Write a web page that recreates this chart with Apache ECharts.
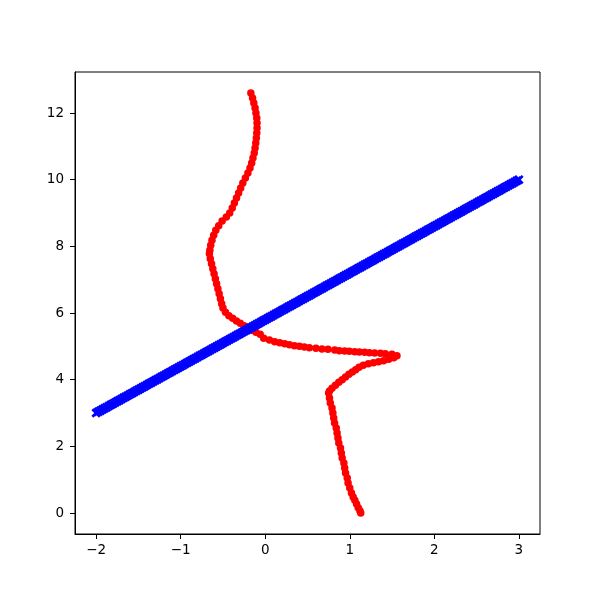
<!DOCTYPE html>
<html>
<head>
<meta charset="utf-8">
<script src="https://cdn.jsdelivr.net/npm/echarts@6/dist/echarts.min.js"></script>
<style>
html, body { margin: 0; padding: 0; background: #fff; }
#chart { width: 600px; height: 600px; }
</style>
</head>
<body>
<div id="chart"></div>
<script>
// red path (top end first)
const redX = [
    -0.17, -0.15, -0.135, -0.12, -0.11, -0.10, -0.097, -0.097, -0.10, -0.105,
    -0.112, -0.12, -0.13, -0.145, -0.16, -0.18, -0.205, -0.235, -0.265, -0.29,
    -0.315, -0.34, -0.365, -0.39, -0.42, -0.46, -0.51, -0.55, -0.585, -0.61,
    -0.63, -0.645, -0.655, -0.66,
    -0.65, -0.635, -0.62, -0.605, -0.59, -0.575, -0.56, -0.545, -0.53, -0.515, -0.50,
    -0.47, -0.43, -0.385, -0.34, -0.295, -0.25, -0.205, -0.16, -0.11, -0.06,
    -0.018, 0.05, 0.112, 0.171, 0.23, 0.286, 0.345, 0.404, 0.463, 0.522,
    0.60, 0.671, 0.742, 0.822, 0.877, 0.94, 0.995, 1.058, 1.113, 1.176,
    1.232, 1.294, 1.362, 1.42, 1.499, 1.558,
    1.52, 1.46, 1.40, 1.34, 1.28, 1.22, 1.16, 1.11, 1.07, 1.03,
    0.99, 0.95, 0.91, 0.87, 0.83, 0.79, 0.76, 0.75,
    0.76, 0.77, 0.79, 0.80, 0.81, 0.82, 0.84, 0.85, 0.86, 0.87,
    0.89, 0.90, 0.91, 0.93, 0.94, 0.95, 0.97, 0.98, 1.00, 1.02,
    1.04, 1.06, 1.08, 1.10, 1.12, 1.13
];
const redY = [
    12.60, 12.45, 12.30, 12.15, 12.00, 11.85, 11.70, 11.55, 11.40, 11.25,
    11.10, 10.95, 10.80, 10.65, 10.50, 10.35, 10.20, 10.05, 9.90, 9.75,
    9.60, 9.45, 9.30, 9.15, 9.00, 8.88, 8.76, 8.62, 8.48, 8.33,
    8.18, 8.03, 7.88, 7.78,
    7.63, 7.48, 7.33, 7.18, 7.03, 6.88, 6.73, 6.58, 6.43, 6.28, 6.15,
    6.02, 5.92, 5.84, 5.76, 5.69, 5.62, 5.55, 5.48, 5.42, 5.36,
    5.24, 5.19, 5.14, 5.11, 5.08, 5.05, 5.02, 5.00, 4.98, 4.96,
    4.94, 4.92, 4.91, 4.89, 4.87, 4.86, 4.85, 4.84, 4.83, 4.82,
    4.81, 4.80, 4.79, 4.78, 4.76, 4.72,
    4.66, 4.61, 4.57, 4.54, 4.51, 4.48, 4.43, 4.37, 4.30, 4.23,
    4.16, 4.08, 4.00, 3.92, 3.83, 3.74, 3.66, 3.60,
    3.45, 3.30, 3.15, 3.00, 2.85, 2.70, 2.55, 2.40, 2.25, 2.10,
    1.95, 1.80, 1.65, 1.50, 1.35, 1.20, 1.05, 0.90, 0.75, 0.60,
    0.48, 0.38, 0.27, 0.16, 0.07, 0.00
];

// blue straight line of x markers, from (-2, 3) to (3, 10)
const blueX = [
    -2.000, -1.975, -1.950, -1.925, -1.900, -1.875, -1.850, -1.825, -1.800, -1.775,
    -1.750, -1.725, -1.700, -1.675, -1.650, -1.625, -1.600, -1.575, -1.550, -1.525,
    -1.500, -1.475, -1.450, -1.425, -1.400, -1.375, -1.350, -1.325, -1.300, -1.275,
    -1.250, -1.225, -1.200, -1.175, -1.150, -1.125, -1.100, -1.075, -1.050, -1.025,
    -1.000, -0.975, -0.950, -0.925, -0.900, -0.875, -0.850, -0.825, -0.800, -0.775,
    -0.750, -0.725, -0.700, -0.675, -0.650, -0.625, -0.600, -0.575, -0.550, -0.525,
    -0.500, -0.475, -0.450, -0.425, -0.400, -0.375, -0.350, -0.325, -0.300, -0.275,
    -0.250, -0.225, -0.200, -0.175, -0.150, -0.125, -0.100, -0.075, -0.050, -0.025,
    0.000, 0.025, 0.050, 0.075, 0.100, 0.125, 0.150, 0.175, 0.200, 0.225,
    0.250, 0.275, 0.300, 0.325, 0.350, 0.375, 0.400, 0.425, 0.450, 0.475,
    0.500, 0.525, 0.550, 0.575, 0.600, 0.625, 0.650, 0.675, 0.700, 0.725,
    0.750, 0.775, 0.800, 0.825, 0.850, 0.875, 0.900, 0.925, 0.950, 0.975,
    1.000, 1.025, 1.050, 1.075, 1.100, 1.125, 1.150, 1.175, 1.200, 1.225,
    1.250, 1.275, 1.300, 1.325, 1.350, 1.375, 1.400, 1.425, 1.450, 1.475,
    1.500, 1.525, 1.550, 1.575, 1.600, 1.625, 1.650, 1.675, 1.700, 1.725,
    1.750, 1.775, 1.800, 1.825, 1.850, 1.875, 1.900, 1.925, 1.950, 1.975,
    2.000, 2.025, 2.050, 2.075, 2.100, 2.125, 2.150, 2.175, 2.200, 2.225,
    2.250, 2.275, 2.300, 2.325, 2.350, 2.375, 2.400, 2.425, 2.450, 2.475,
    2.500, 2.525, 2.550, 2.575, 2.600, 2.625, 2.650, 2.675, 2.700, 2.725,
    2.750, 2.775, 2.800, 2.825, 2.850, 2.875, 2.900, 2.925, 2.950, 2.975,
    3.000
];
const blueY = [
    3.000, 3.035, 3.070, 3.105, 3.140, 3.175, 3.210, 3.245, 3.280, 3.315,
    3.350, 3.385, 3.420, 3.455, 3.490, 3.525, 3.560, 3.595, 3.630, 3.665,
    3.700, 3.735, 3.770, 3.805, 3.840, 3.875, 3.910, 3.945, 3.980, 4.015,
    4.050, 4.085, 4.120, 4.155, 4.190, 4.225, 4.260, 4.295, 4.330, 4.365,
    4.400, 4.435, 4.470, 4.505, 4.540, 4.575, 4.610, 4.645, 4.680, 4.715,
    4.750, 4.785, 4.820, 4.855, 4.890, 4.925, 4.960, 4.995, 5.030, 5.065,
    5.100, 5.135, 5.170, 5.205, 5.240, 5.275, 5.310, 5.345, 5.380, 5.415,
    5.450, 5.485, 5.520, 5.555, 5.590, 5.625, 5.660, 5.695, 5.730, 5.765,
    5.800, 5.835, 5.870, 5.905, 5.940, 5.975, 6.010, 6.045, 6.080, 6.115,
    6.150, 6.185, 6.220, 6.255, 6.290, 6.325, 6.360, 6.395, 6.430, 6.465,
    6.500, 6.535, 6.570, 6.605, 6.640, 6.675, 6.710, 6.745, 6.780, 6.815,
    6.850, 6.885, 6.920, 6.955, 6.990, 7.025, 7.060, 7.095, 7.130, 7.165,
    7.200, 7.235, 7.270, 7.305, 7.340, 7.375, 7.410, 7.445, 7.480, 7.515,
    7.550, 7.585, 7.620, 7.655, 7.690, 7.725, 7.760, 7.795, 7.830, 7.865,
    7.900, 7.935, 7.970, 8.005, 8.040, 8.075, 8.110, 8.145, 8.180, 8.215,
    8.250, 8.285, 8.320, 8.355, 8.390, 8.425, 8.460, 8.495, 8.530, 8.565,
    8.600, 8.635, 8.670, 8.705, 8.740, 8.775, 8.810, 8.845, 8.880, 8.915,
    8.950, 8.985, 9.020, 9.055, 9.090, 9.125, 9.160, 9.195, 9.230, 9.265,
    9.300, 9.335, 9.370, 9.405, 9.440, 9.475, 9.510, 9.545, 9.580, 9.615,
    9.650, 9.685, 9.720, 9.755, 9.790, 9.825, 9.860, 9.895, 9.930, 9.965,
    10.000
];

const xTicks = [-2, -1, 0, 1, 2, 3];
const yTicks = [0, 2, 4, 6, 8, 10, 12];

const redData = redX.map((x, i) => [x, redY[i]]);
const blueData = blueX.map((x, i) => [x, blueY[i]]);

// "x" marker drawn as a filled cross, thick arms so the markers merge into a band
const crossPath = 'path://M0,2L2,0L5,3L8,0L10,2L7,5L10,8L8,10L5,7L2,10L0,8L3,5Z';
const minus = v => String(v).replace('-', '\u2212');
const labelFont = {
    color: '#000',
    fontSize: 13.5,
    fontFamily: 'DejaVu Sans'
};

const chart = echarts.init(document.getElementById('chart'), null, { renderer: 'canvas' });
chart.setOption({
    animation: false,
    backgroundColor: '#fff',
    grid: {
        show: true,
        left: 75,
        right: 60,
        top: 72,
        bottom: 66,
        borderColor: '#000',
        borderWidth: 1,
        containLabel: false
    },
    xAxis: {
        type: 'value',
        min: -2.25,
        max: 3.25,
        axisLine: { show: true, onZero: false, lineStyle: { color: '#000', width: 1 } },
        axisTick: {
            show: true,
            length: 5,
            customValues: xTicks,
            lineStyle: { color: '#000', width: 1 }
        },
        axisLabel: Object.assign({
            margin: 9,
            customValues: xTicks,
            formatter: minus
        }, labelFont),
        splitLine: { show: false }
    },
    yAxis: {
        type: 'value',
        min: -0.63,
        max: 13.23,
        axisLine: { show: true, onZero: false, lineStyle: { color: '#000', width: 1 } },
        axisTick: {
            show: true,
            length: 5,
            customValues: yTicks,
            lineStyle: { color: '#000', width: 1 }
        },
        axisLabel: Object.assign({
            margin: 11,
            customValues: yTicks,
            formatter: minus
        }, labelFont),
        splitLine: { show: false }
    },
    series: [
        {
            name: 'red',
            type: 'scatter',
            symbol: 'circle',
            symbolSize: 7.5,
            itemStyle: { color: '#ff0000', opacity: 1 },
            data: redData
        },
        {
            name: 'blue',
            type: 'scatter',
            symbol: crossPath,
            symbolSize: 9.5,
            itemStyle: { color: '#0000ff', opacity: 1 },
            data: blueData
        }
    ]
});
</script>
</body>
</html>
